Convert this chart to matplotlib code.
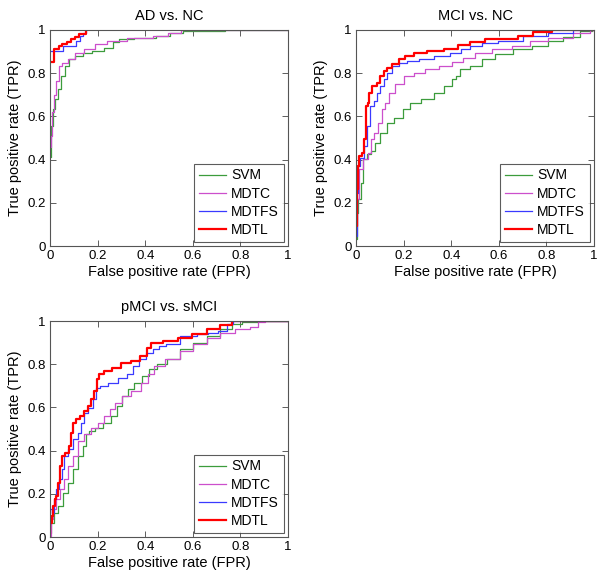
import matplotlib
matplotlib.use("Agg")
import matplotlib.pyplot as plt

plt.rcParams['font.family'] = ['Liberation Sans', 'DejaVu Sans']

methods = ["SVM", "MDTC", "MDTFS", "MDTL"]
colors = {"SVM": "#3c9c3c", "MDTC": "#cc4fcc", "MDTFS": "#3a3aff", "MDTL": "#ff0000"}
widths = {"SVM": 0.9, "MDTC": 0.9, "MDTFS": 0.9, "MDTL": 1.6}
ticks = [0, 0.2, 0.4, 0.6, 0.8, 1]
tick_labels = ["0", "0.2", "0.4", "0.6", "0.8", "1"]

# ---- AD vs. NC ----
ad_svm_fpr = [0, 0.008, 0.018, 0.028, 0.039, 0.053, 0.07, 0.088, 0.123, 0.158, 0.193, 0.263, 0.27, 0.31, 0.40, 0.49, 0.52, 0.60, 0.874, 1.0]
ad_svm_tpr = [0.41, 0.556, 0.634, 0.68, 0.725, 0.787, 0.833, 0.864, 0.88, 0.895, 0.903, 0.918, 0.944, 0.957, 0.964, 0.972, 0.987, 0.995, 1.0, 1.0]
ad_mdtc_fpr = [0, 0.007, 0.011, 0.02, 0.032, 0.042, 0.06, 0.088, 0.123, 0.165, 0.21, 0.265, 0.378, 0.49, 0.50, 0.60, 1.0]
ad_mdtc_tpr = [0.46, 0.51, 0.62, 0.70, 0.764, 0.833, 0.849, 0.864, 0.895, 0.91, 0.935, 0.95, 0.964, 0.972, 0.987, 1.0, 1.0]
ad_mdtfs_fpr = [0, 0.053, 0.11, 0.125, 0.14, 0.15]
ad_mdtfs_tpr = [0.905, 0.925, 0.95, 0.97, 0.985, 1.0]
ad_mdtl_fpr = [0, 0.017, 0.036, 0.052, 0.07, 0.089, 0.106, 0.12, 0.15]
ad_mdtl_tpr = [0.85, 0.91, 0.925, 0.935, 0.945, 0.957, 0.969, 0.98, 1.0]

# ---- MCI vs. NC ----
mci_svm_fpr = [0, 0.006, 0.014, 0.025, 0.036, 0.053, 0.074, 0.088, 0.116, 0.144, 0.179, 0.214, 0.242, 0.305, 0.347, 0.389, 0.417, 0.423, 0.451, 0.507, 0.549, 0.616, 0.703, 0.773, 0.843, 0.899, 0.983, 1.0]
mci_svm_tpr = [0.032, 0.154, 0.216, 0.293, 0.401, 0.424, 0.44, 0.478, 0.525, 0.571, 0.594, 0.633, 0.663, 0.679, 0.71, 0.741, 0.772, 0.787, 0.818, 0.833, 0.864, 0.887, 0.913, 0.926, 0.949, 0.969, 0.995, 1.0]
mci_mdtc_fpr = [0, 0.008, 0.018, 0.039, 0.06, 0.067, 0.081, 0.102, 0.116, 0.13, 0.151, 0.179, 0.221, 0.263, 0.319, 0.375, 0.431, 0.465, 0.535, 0.605, 0.703, 0.759, 0.857, 0.97, 1.0]
mci_mdtc_tpr = [0.093, 0.216, 0.355, 0.401, 0.432, 0.494, 0.525, 0.571, 0.633, 0.663, 0.71, 0.749, 0.787, 0.802, 0.818, 0.833, 0.85, 0.872, 0.892, 0.91, 0.926, 0.949, 0.964, 0.988, 1.0]
mci_mdtfs_fpr = [0, 0.006, 0.011, 0.025, 0.039, 0.053, 0.067, 0.081, 0.095, 0.109, 0.123, 0.137, 0.165, 0.193, 0.235, 0.291, 0.361, 0.431, 0.451, 0.507, 0.549, 0.647, 0.759, 0.857, 0.97, 1.0]
mci_mdtfs_tpr = [0.046, 0.247, 0.37, 0.409, 0.463, 0.556, 0.648, 0.671, 0.71, 0.741, 0.772, 0.802, 0.833, 0.849, 0.856, 0.864, 0.88, 0.895, 0.91, 0.926, 0.941, 0.949, 0.972, 0.988, 1.0, 1.0]
mci_mdtl_fpr = [0, 0.008, 0.011, 0.018, 0.032, 0.039, 0.046, 0.053, 0.06, 0.078, 0.095, 0.109, 0.123, 0.137, 0.165, 0.193, 0.221, 0.263, 0.333, 0.403, 0.451, 0.507, 0.577, 0.647, 0.717, 0.773, 0.87, 1.0]
mci_mdtl_tpr = [0.093, 0.262, 0.37, 0.417, 0.432, 0.494, 0.648, 0.663, 0.71, 0.741, 0.756, 0.787, 0.81, 0.825, 0.841, 0.864, 0.88, 0.895, 0.903, 0.913, 0.929, 0.944, 0.957, 0.96, 0.972, 0.991, 1.0, 1.0]

# ---- pMCI vs. sMCI ----
p_svm_fpr = [0, 0.008, 0.025, 0.046, 0.067, 0.088, 0.109, 0.13, 0.144, 0.158, 0.172, 0.207, 0.242, 0.27, 0.291, 0.312, 0.34, 0.368, 0.403, 0.431, 0.466, 0.518, 0.574, 0.63, 0.686, 0.742, 0.784, 0.826, 0.924, 1.0]
p_svm_tpr = [0.02, 0.066, 0.113, 0.144, 0.205, 0.251, 0.313, 0.375, 0.421, 0.475, 0.491, 0.506, 0.529, 0.56, 0.606, 0.653, 0.684, 0.714, 0.745, 0.776, 0.8, 0.823, 0.869, 0.9, 0.93, 0.961, 0.985, 0.995, 1.0, 1.0]
p_mdtc_fpr = [0, 0.008, 0.018, 0.032, 0.053, 0.067, 0.088, 0.109, 0.13, 0.158, 0.186, 0.214, 0.242, 0.263, 0.284, 0.319, 0.361, 0.403, 0.424, 0.452, 0.518, 0.574, 0.63, 0.686, 0.742, 0.812, 0.868, 0.882, 0.924, 1.0]
p_mdtc_tpr = [0.005, 0.082, 0.128, 0.175, 0.221, 0.267, 0.329, 0.375, 0.444, 0.475, 0.506, 0.529, 0.56, 0.591, 0.622, 0.653, 0.676, 0.714, 0.753, 0.792, 0.823, 0.861, 0.892, 0.923, 0.946, 0.961, 0.97, 0.995, 1.0, 1.0]
p_mdtfs_fpr = [0, 0.004, 0.014, 0.022, 0.032, 0.046, 0.053, 0.067, 0.088, 0.109, 0.123, 0.137, 0.151, 0.172, 0.186, 0.2, 0.221, 0.263, 0.305, 0.34, 0.361, 0.389, 0.417, 0.445, 0.473, 0.504, 0.588, 0.644, 0.686, 0.728, 0.756, 0.784, 1.0]
p_mdtfs_tpr = [0.066, 0.128, 0.11, 0.175, 0.221, 0.267, 0.313, 0.375, 0.406, 0.452, 0.483, 0.529, 0.575, 0.599, 0.637, 0.691, 0.699, 0.714, 0.738, 0.753, 0.792, 0.823, 0.853, 0.869, 0.884, 0.892, 0.93, 0.938, 0.946, 0.953, 0.985, 1.0, 1.0]
p_mdtl_fpr = [0, 0.004, 0.011, 0.018, 0.022, 0.032, 0.039, 0.046, 0.053, 0.074, 0.084, 0.095, 0.102, 0.116, 0.137, 0.151, 0.165, 0.179, 0.193, 0.2, 0.214, 0.242, 0.277, 0.319, 0.361, 0.396, 0.417, 0.431, 0.518, 0.56, 0.63, 0.686, 0.742, 0.791, 1.0]
p_mdtl_tpr = [0.02, 0.066, 0.097, 0.144, 0.175, 0.19, 0.251, 0.329, 0.375, 0.39, 0.421, 0.483, 0.529, 0.545, 0.56, 0.583, 0.606, 0.637, 0.676, 0.73, 0.753, 0.769, 0.784, 0.807, 0.815, 0.838, 0.876, 0.897, 0.907, 0.923, 0.938, 0.961, 0.98, 1.0, 1.0]

panels = [
    ("AD vs. NC", {"SVM": (ad_svm_fpr, ad_svm_tpr), "MDTC": (ad_mdtc_fpr, ad_mdtc_tpr),
                   "MDTFS": (ad_mdtfs_fpr, ad_mdtfs_tpr), "MDTL": (ad_mdtl_fpr, ad_mdtl_tpr)}),
    ("MCI vs. NC", {"SVM": (mci_svm_fpr, mci_svm_tpr), "MDTC": (mci_mdtc_fpr, mci_mdtc_tpr),
                    "MDTFS": (mci_mdtfs_fpr, mci_mdtfs_tpr), "MDTL": (mci_mdtl_fpr, mci_mdtl_tpr)}),
    ("pMCI vs. sMCI", {"SVM": (p_svm_fpr, p_svm_tpr), "MDTC": (p_mdtc_fpr, p_mdtc_tpr),
                       "MDTFS": (p_mdtfs_fpr, p_mdtfs_tpr), "MDTL": (p_mdtl_fpr, p_mdtl_tpr)}),
]
# coarse staircases drawn as post-steps, dense ROC curves as centred steps
stepped = {("AD vs. NC", "MDTFS"), ("AD vs. NC", "MDTL")}

W, H = 604, 580
fig = plt.figure(figsize=(W / 100, H / 100), dpi=100)
boxes = [(50, 30), (356, 30), (50, 321)]
aw, ah = 238, 216

for (title, data), (px, py) in zip(panels, boxes):
    ax = fig.add_axes([px / W, 1 - (py + ah) / H, aw / W, ah / H])
    for m in methods:
        x, y = data[m]
        ds = "steps-post" if (title, m) in stepped else "steps-mid"
        ax.plot(x, y, drawstyle=ds, color=colors[m], lw=widths[m], label=m)
    ax.set_xlim(0, 1)
    ax.set_ylim(0, 1)
    ax.set_xticks(ticks)
    ax.set_xticklabels(tick_labels)
    ax.set_yticks(ticks)
    ax.set_yticklabels(tick_labels)
    ax.tick_params(direction="in", top=True, right=True, length=4, width=0.6,
                   labelsize=9.5, color="#444444", pad=3)
    for s in ax.spines.values():
        s.set_color("#555555")
        s.set_linewidth(0.8)
    ax.set_title(title, fontsize=10.5, pad=7)
    ax.set_xlabel("False positive rate (FPR)", fontsize=10.5, labelpad=2)
    ax.set_ylabel("True positive rate (TPR)", fontsize=10.5, labelpad=4)
    leg = ax.legend(loc="lower right", fontsize=10, fancybox=False, frameon=True,
                    edgecolor="#333333", handlelength=2.0, borderaxespad=0.3,
                    labelspacing=0.3, handletextpad=0.35, borderpad=0.35)
    leg.get_frame().set_linewidth(0.8)

fig.savefig("out.png", dpi=100, facecolor="white")
